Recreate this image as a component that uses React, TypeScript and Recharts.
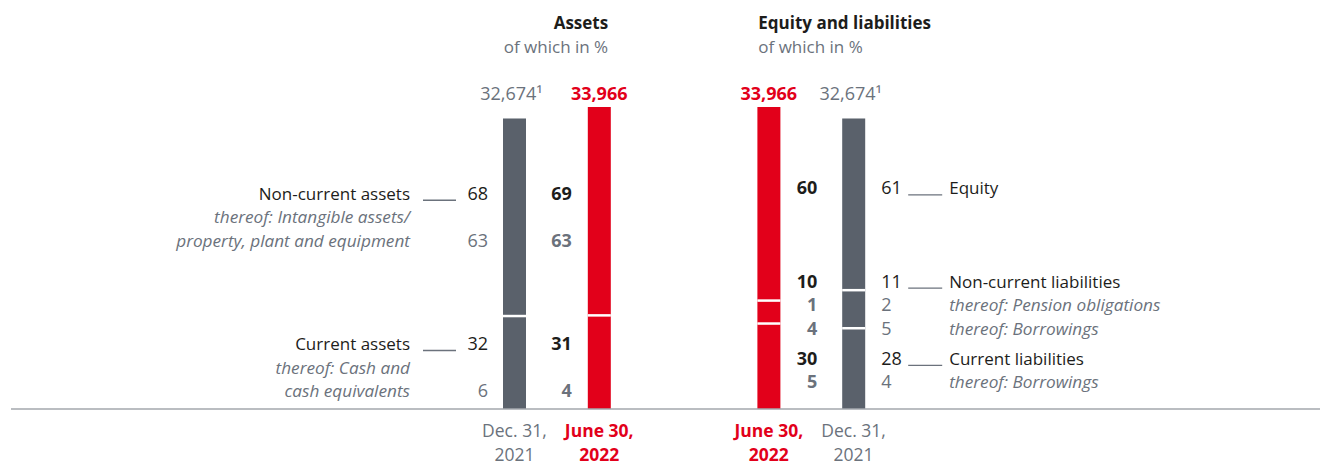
import React from 'react';
import { BarChart, Bar, XAxis, YAxis, Cell, LabelList } from 'recharts';

// four balance-sheet columns, with an empty slot between assets and equity/liabilities
const barIds = ['assets2021', 'assets2022', 'gap', 'liab2022', 'liab2021'];
const dateLabels = [['Dec. 31,', '2021'], ['June 30,', '2022'], [], ['June 30,', '2022'], ['Dec. 31,', '2021']];
const totals = [32674, 33966, 0, 33966, 32674];
const totalLabels = ['32,674¹', '33,966', '', '33,966', '32,674¹'];

// segment shares (%) as drawn in the bars, bottom to top
const bottomShare = [32, 31, 0, 28.3, 27.8];
const middleShare = [0, 0, 0, 7.6, 13.1];
const topShare = [68, 69, 0, 64.1, 59.1];

// printed row labels and percentages
const assetRowNames = ['Non-current assets', 'thereof: Intangible assets/', 'property, plant and equipment', 'Current assets', 'thereof: Cash and', 'cash equivalents'];
const assetPct2021 = [68, null, 63, 32, null, 6];
const assetPct2022 = [69, null, 63, 31, null, 4];
const liabRowNames = ['Equity', 'Non-current liabilities', 'thereof: Pension obligations', 'thereof: Borrowings', 'Current liabilities', 'thereof: Borrowings'];
const liabPct2021 = [61, 11, 2, 5, 28, 4];
const liabPct2022 = [60, 10, 1, 4, 30, 5];

const chartData = barIds.map((id, i) => ({
  id,
  bottom: (totals[i] * bottomShare[i]) / 100,
  middle: (totals[i] * middleShare[i]) / 100,
  top: (totals[i] * topShare[i]) / 100,
}));

const GREY = '#5a616b';
const RED = '#e2001a';
const DARK = '#1d1d1b';
const MUTED = '#6b727c';
const AXIS = '#a3a7ac';
const FONT = '"Open Sans", "Noto Sans", sans-serif';
const ROW_H = 23.5;

const isCurrent = (i: number) => i === 1 || i === 3;

// which rows sit next to which segment (of the Dec. 31 column), plus a nudge
const assetGroups = [
  { seg: 'top', rows: [0, 1, 2], dy: 0 },
  { seg: 'bottom', rows: [3, 4, 5], dy: 5 },
];
const liabGroups = [
  { seg: 'top', rows: [0], dy: -16 },
  { seg: 'middle', rows: [1, 2, 3], dy: -4 },
  { seg: 'bottom', rows: [4, 5], dy: 2 },
];

const Segment = (props: any) => {
  const { x, y, width, height, fill, split } = props;
  if (!height || height <= 0) return null;
  return (
    <g>
      <rect x={x} y={y} width={width} height={height} fill={fill} />
      {split && <rect x={x} y={y + height - 1.25} width={width} height={2.5} fill="#fff" />}
    </g>
  );
};

const RowLabels = (props: any) => {
  const index = props.index;
  const vb = props.viewBox ?? props;
  const { x, y, width, height } = vb;
  if (index === 2 || !height) return null;
  const assets = index < 2;
  const ref = chartData[assets ? 0 : 4];
  const y0 = y + height;
  const k = height / chartData[index].bottom;
  const centers: Record<string, number> = {
    bottom: y0 - (k * ref.bottom) / 2,
    middle: y0 - k * (ref.bottom + ref.middle / 2),
    top: y0 - k * (ref.bottom + ref.middle + ref.top / 2),
  };
  const groups = assets ? assetGroups : liabGroups;
  const names = assets ? assetRowNames : liabRowNames;
  const pcts = [assetPct2021, assetPct2022, [], liabPct2022, liabPct2021][index] as (number | null)[];
  const bold = isCurrent(index);
  const out: React.ReactNode[] = [];

  let valX = x - 15;
  let anchor: 'start' | 'end' = 'end';
  if (index === 1) valX = x - 16;
  if (index === 3) valX = x + width + 37;
  if (index === 4) { valX = x + width + 16; anchor = 'start'; }

  groups.forEach((g) => {
    g.rows.forEach((row, j) => {
      const base = centers[g.seg] + g.dy + (j - (g.rows.length - 1) / 2) * ROW_H + 6;
      const main = j === 0;
      const v = pcts[row];
      if (v != null) {
        out.push(
          <text key={`v${row}`} x={valX} y={base} textAnchor={anchor} fontFamily={FONT} fontSize={18}
            fontWeight={bold ? 700 : 400} fill={main ? DARK : MUTED}>{v}</text>
        );
      }
      if (!bold) {
        const left = index === 0;
        const nameX = left ? x - 93 : x + width + 84;
        out.push(
          <text key={`n${row}`} x={nameX} y={base} textAnchor={left ? 'end' : 'start'} fontFamily={FONT}
            fontSize={main ? 17 : 17.2} fontStyle={main ? 'normal' : 'italic'} fill={main ? DARK : MUTED}>{names[row]}</text>
        );
        if (main) {
          const x1 = left ? x - 80 : x + width + 43;
          const x2 = left ? x - 47 : x + width + 77;
          out.push(<line key={`l${row}`} x1={x1} x2={x2} y1={base + 0.5} y2={base + 0.5} stroke={MUTED} strokeWidth={1.3} />);
        }
      }
    });
  });
  return <g>{out}</g>;
};

const TopTick = (props: any) => {
  const { x, y, payload } = props;
  const i = barIds.indexOf(payload.value);
  if (i < 0 || !totalLabels[i]) return null;
  const cur = isCurrent(i);
  return (
    <g>
      <text x={cur ? x : x - 3} y={y - 7} textAnchor="middle" fontFamily={FONT} fontSize={18}
        fontWeight={cur ? 700 : 400} fill={cur ? RED : MUTED}>{totalLabels[i]}</text>
      {i === 1 && (
        <g>
          <text x={x + 9} y={y - 78} textAnchor="end" fontFamily={FONT} fontSize={17} fontWeight={700} fill={DARK}>Assets</text>
          <text x={x + 9} y={y - 54.5} textAnchor="end" fontFamily={FONT} fontSize={17} fill={MUTED}>of which in %</text>
        </g>
      )}
      {i === 3 && (
        <g>
          <text x={x - 10.5} y={y - 78} textAnchor="start" fontFamily={FONT} fontSize={17} fontWeight={700} fill={DARK}>Equity and liabilities</text>
          <text x={x - 10.5} y={y - 54.5} textAnchor="start" fontFamily={FONT} fontSize={17} fill={MUTED}>of which in %</text>
        </g>
      )}
    </g>
  );
};

const DateTick = (props: any) => {
  const { x, y, payload } = props;
  const i = barIds.indexOf(payload.value);
  const lines = dateLabels[i] || [];
  if (!lines.length) return null;
  const cur = isCurrent(i);
  return (
    <g>
      {lines.map((t, j) => (
        <text key={j} x={x} y={y + 28 + j * 23.5} textAnchor="middle" fontFamily={FONT} fontSize={17.5}
          fontWeight={cur ? 700 : 400} fill={cur ? RED : MUTED}>{t}</text>
      ))}
    </g>
  );
};

export default function App() {
  const fills = barIds.map((_, i) => (isCurrent(i) ? RED : GREY));
  return (
    <div style={{ position: 'absolute', left: 0, top: 0, width: 1320, height: 462, background: '#fff', fontFamily: FONT }}>
      <BarChart width={1320} height={462} data={chartData} margin={{ top: 87, right: 0, bottom: 0, left: 11 }}>
        <XAxis xAxisId="top" orientation="top" dataKey="id" height={20} padding={{ left: 461, right: 424 }}
          axisLine={false} tickLine={false} tickSize={0} tickMargin={0} interval={0} tick={(p: any) => <TopTick {...p} />} />
        <XAxis xAxisId="bottom" dataKey="id" height={53} padding={{ left: 461, right: 424 }}
          axisLine={{ stroke: AXIS, strokeWidth: 1.5 }} tickLine={false} tickSize={0} tickMargin={0} interval={0}
          tick={(p: any) => <DateTick {...p} />} />
        <YAxis hide domain={[0, 33966]} />
        <Bar dataKey="bottom" stackId="s" xAxisId="bottom" barSize={23} isAnimationActive={false}
          shape={(p: any) => <Segment {...p} />}>
          {chartData.map((d, i) => <Cell key={d.id} fill={fills[i]} />)}
          <LabelList dataKey="bottom" content={(p: any) => <RowLabels {...p} />} />
        </Bar>
        <Bar dataKey="middle" stackId="s" xAxisId="bottom" barSize={23} isAnimationActive={false}
          shape={(p: any) => <Segment {...p} split />}>
          {chartData.map((d, i) => <Cell key={d.id} fill={fills[i]} />)}
        </Bar>
        <Bar dataKey="top" stackId="s" xAxisId="bottom" barSize={23} isAnimationActive={false}
          shape={(p: any) => <Segment {...p} split />}>
          {chartData.map((d, i) => <Cell key={d.id} fill={fills[i]} />)}
        </Bar>
      </BarChart>
    </div>
  );
}
